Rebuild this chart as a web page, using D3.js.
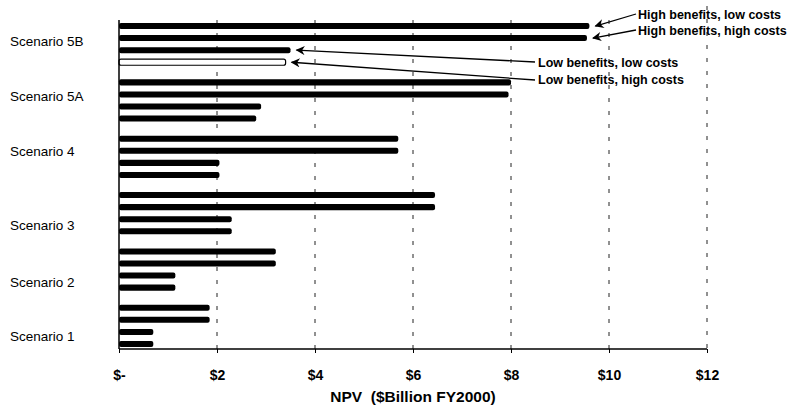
<!DOCTYPE html>
<html>
<head>
<meta charset="utf-8">
<script src="https://cdn.jsdelivr.net/npm/d3@7"></script>
<style>
  body { margin: 0; background: #fff; }
  text { font-family: "Liberation Sans", Arial, sans-serif; fill: #000; }
</style>
</head>
<body>
<div id="chart"></div>
<script>
// data, top to bottom as in the picture
const scenarios = ["Scenario 5B", "Scenario 5A", "Scenario 4", "Scenario 3", "Scenario 2", "Scenario 1"];
const series = ["High benefits, low costs", "High benefits, high costs", "Low benefits, low costs", "Low benefits, high costs"];
const highLow = [9.6, 8.0, 5.7, 6.45, 3.2, 1.85];
const highHigh = [9.55, 7.95, 5.7, 6.45, 3.2, 1.85];
const lowLow = [3.5, 2.9, 2.05, 2.3, 1.15, 0.7];
const lowHigh = [3.4, 2.8, 2.05, 2.3, 1.15, 0.7];
const tickValues = [0, 2, 4, 6, 8, 10, 12];
const tickLabels = ["$-", "$2", "$4", "$6", "$8", "$10", "$12"];

const values = [highLow, highHigh, lowLow, lowHigh];
const rows = scenarios.flatMap((s, i) => series.map((k, j) => ({ scenario: s, series: k, value: values[j][i] })));

const width = 794, height = 410;
const svg = d3.select("#chart").append("svg")
  .attr("width", width)
  .attr("height", height);

const x = d3.scaleLinear().domain([0, 12]).range([119, 707]);
const y = d3.scaleBand().domain(scenarios).range([23, 347]).paddingInner(0.25).paddingOuter(0);
const yInner = d3.scaleBand().domain(series).range([0, y.bandwidth()]).paddingInner(0.5).paddingOuter(0);

const plotTop = 20, plotBottom = 349;
// the original category labels sit a little off the group centres
const labelNudge = [-3, -4, -6, 12, 12, 10];

// dashed gridlines
svg.append("g")
  .selectAll("line")
  .data(tickValues.slice(1))
  .join("line")
    .attr("x1", d => x(d)).attr("x2", d => x(d))
    .attr("y1", d => d === 12 ? 6 : plotTop).attr("y2", plotBottom)
    .attr("stroke", "#222")
    .attr("stroke-width", 1)
    .attr("stroke-dasharray", "4,9");

// bars
svg.append("g")
  .selectAll("rect")
  .data(rows)
  .join("rect")
    .attr("x", x(0))
    .attr("y", d => y(d.scenario) + yInner(d.series))
    .attr("width", d => x(d.value) - x(0))
    .attr("height", yInner.bandwidth())
    .attr("rx", 2)
    .attr("fill", d => d.scenario === "Scenario 5B" && d.series === series[3] ? "#fff" : "#000")
    .attr("stroke", "#000")
    .attr("stroke-width", d => d.scenario === "Scenario 5B" && d.series === series[3] ? 1.2 : 0);

// axes
const xAxis = d3.axisBottom(x)
  .tickValues(tickValues)
  .tickSize(4)
  .tickFormat((d, i) => tickLabels[i]);

const gx = svg.append("g")
  .attr("transform", `translate(0,${plotBottom})`)
  .call(xAxis);
gx.select(".domain").attr("stroke", "#000").attr("stroke-width", 1.5).attr("d", `M${x(0)},0H${x(12)}`);
gx.selectAll(".tick line").attr("stroke", "#000");
gx.selectAll(".tick text")
  .attr("dy", 0)
  .attr("y", 31)
  .style("font-size", "14px")
  .style("font-weight", "bold");

svg.append("line")
  .attr("x1", x(0)).attr("x2", x(0))
  .attr("y1", plotTop).attr("y2", plotBottom)
  .attr("stroke", "#000").attr("stroke-width", 1.5);

// scenario labels
svg.append("g")
  .selectAll("text")
  .data(scenarios)
  .join("text")
    .attr("x", 10)
    .attr("y", (d, i) => y(d) + y.bandwidth() / 2 + 5 + labelNudge[i])
    .style("font-size", "13.5px")
    .text(d => d);

// axis title
svg.append("text")
  .attr("x", 413)
  .attr("y", 402)
  .attr("text-anchor", "middle")
  .style("font-size", "15.5px")
  .style("font-weight", "bold")
  .style("white-space", "pre")
  .text("NPV  ($Billion FY2000)");

// annotations with arrows pointing at the Scenario 5B bars
svg.append("defs").append("marker")
  .attr("id", "arrow")
  .attr("viewBox", "0 0 10 10")
  .attr("refX", 9).attr("refY", 5)
  .attr("markerWidth", 9).attr("markerHeight", 7)
  .attr("orient", "auto-start-reverse")
  .append("path")
    .attr("d", "M0,0 L10,5 L0,10 L3,5 z")
    .attr("fill", "#000");

const notes = [
  { series: series[0], tx: 638, ty: 19, lx: 636, ly: 14 },
  { series: series[1], tx: 638, ty: 35, lx: 636, ly: 30 },
  { series: series[2], tx: 538, ty: 67, lx: 535, ly: 62 },
  { series: series[3], tx: 538, ty: 84, lx: 535, ly: 80 }
];

const ann = svg.append("g");
notes.forEach(n => {
  const v = rows.find(r => r.scenario === "Scenario 5B" && r.series === n.series).value;
  const by = y("Scenario 5B") + yInner(n.series) + yInner.bandwidth() / 2;
  ann.append("line")
    .attr("x1", n.lx).attr("y1", n.ly)
    .attr("x2", x(v) + 6).attr("y2", by)
    .attr("stroke", "#000")
    .attr("stroke-width", 1.3)
    .attr("marker-end", "url(#arrow)");
  ann.append("text")
    .attr("x", n.tx).attr("y", n.ty)
    .style("font-size", "12.5px")
    .style("font-weight", "bold")
    .text(n.series);
});
</script>
</body>
</html>
